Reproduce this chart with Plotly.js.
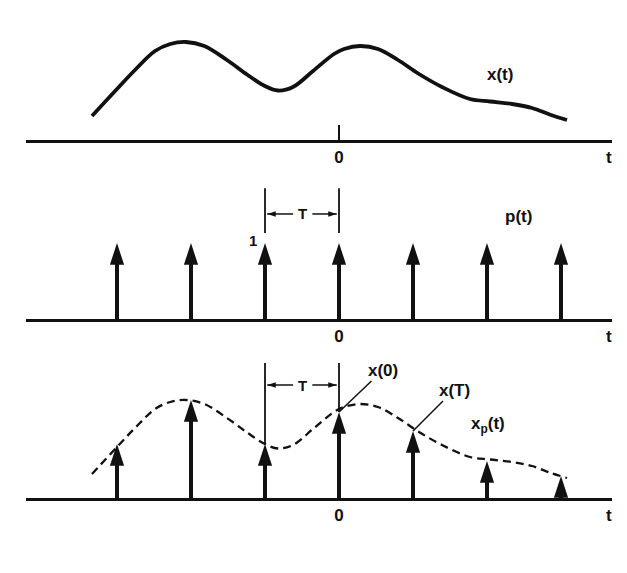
<!DOCTYPE html>
<html>
<head>
<meta charset="utf-8">
<script src="https://cdn.plot.ly/plotly-3.0.1.min.js"></script>
<style>html,body{margin:0;padding:0;background:#fff;}</style>
</head>
<body>
<div id="chart" style="width:627px;height:573px;"></div>
<script>
// continuous signal x(t), t in units of T
const curveT = [-3.338, -3.0, -2.757, -2.486, -2.28, -2.068, -1.82, -1.514, -1.243, -1.014, -0.824, -0.622, -0.351, -0.068, 0.068, 0.284, 0.527, 0.797, 1.081, 1.392, 1.770, 2.041, 2.338, 2.608, 2.865, 3.081];
const curveX = [24, 51, 70, 89, 96, 98, 94, 80, 65.5, 54.5, 49.5, 53, 69, 86, 91, 94, 91, 80, 66, 53, 41, 38.5, 36, 32, 25, 20];
// impulse train p(t)
const pulseT = [-3, -2, -1, 0, 1, 2, 3];
const pulseH = [1, 1, 1, 1, 1, 1, 1];
// sampled values x(nT)
const sampleT = [-3, -2, -1, 0, 1, 2, 3];
const sampleX = [54, 98, 54, 86, 67, 37, 22];
const zeroTick = [0];
const zeroLabel = ['0'];

const INK = '#111';
const FONT = {family: 'Liberation Sans, Arial, sans-serif', size: 17, color: INK, weight: 'bold'};
const SMALL = {family: 'Liberation Sans, Arial, sans-serif', size: 15, color: INK, weight: 'bold'};
const HEAD_PX = 12;            // shaft stops inside arrow head
const PX_PER_UNIT = {y: 1, y2: 76, y3: 1};

function impulseTraces(ts, vs, xa, ya) {
  const sx = [], sy = [];
  const k = PX_PER_UNIT[ya];
  ts.forEach((t, i) => {
    sx.push(t, t, null);
    sy.push(0, Math.max(0, vs[i] - HEAD_PX / k), null);
  });
  return [
    {x: sx, y: sy, xaxis: xa, yaxis: ya, mode: 'lines', line: {color: INK, width: 4}, hoverinfo: 'skip', cliponaxis: false},
    {x: ts, y: vs, xaxis: xa, yaxis: ya, mode: 'markers', marker: {symbol: 'arrow', size: 23, color: INK, line: {width: 0}}, hoverinfo: 'skip', cliponaxis: false}
  ];
}

// "|<- T ->|" bracket arrows between t = -1 and t = 0
function bracketTraces(xa, ya, yv) {
  return [
    {x: [-0.97, -0.62, null, -0.36, -0.03], y: [yv, yv, null, yv, yv], xaxis: xa, yaxis: ya, mode: 'lines', line: {color: INK, width: 1.5}, hoverinfo: 'skip', cliponaxis: false},
    {x: [-0.97, -0.03], y: [yv, yv], xaxis: xa, yaxis: ya, mode: 'markers', marker: {symbol: 'arrow', size: 9, angle: [-90, 90], color: INK, line: {width: 0}}, hoverinfo: 'skip', cliponaxis: false}
  ];
}

const data = [
  {x: curveT, y: curveX, xaxis: 'x', yaxis: 'y', mode: 'lines', line: {color: INK, width: 3.8, shape: 'spline', smoothing: 1}, hoverinfo: 'skip'},
  ...impulseTraces(pulseT, pulseH, 'x2', 'y2'),
  ...bracketTraces('x2', 'y2', 1.382),
  {x: curveT, y: curveX, xaxis: 'x3', yaxis: 'y3', mode: 'lines', line: {color: INK, width: 2.3, shape: 'spline', smoothing: 1, dash: '8px,5px'}, hoverinfo: 'skip'},
  ...impulseTraces(sampleT, sampleX, 'x3', 'y3'),
  ...bracketTraces('x3', 'y3', 113)
];

const xr = [(26 - 339) / 74, (612 - 339) / 74];
const xdom = [26 / 627, 612 / 627];
function xax(anchor, ticks) {
  return {
    domain: xdom, range: xr, anchor: anchor, showgrid: false, zeroline: false,
    showline: true, linecolor: INK, linewidth: 2.5,
    tickmode: 'array', tickvals: zeroTick, ticktext: zeroLabel,
    ticks: ticks ? 'inside' : '', ticklen: 15, tickwidth: 2, tickcolor: INK,
    tickfont: FONT, fixedrange: true
  };
}
function yax(anchor, dom, rng) {
  return {domain: dom, range: rng, anchor: anchor, visible: false, fixedrange: true};
}

const annotations = [
  {xref: 'x', yref: 'y', x: 2.176, y: 66, text: 'x(t)', showarrow: false, font: FONT},
  {xref: 'x2', yref: 'y2', x: 2.419, y: 1.355, text: 'p(t)', showarrow: false, font: FONT},
  {xref: 'x3', yref: 'y3', x: 2.014, y: 73, text: 'x<sub>p</sub>(t)', showarrow: false, font: FONT},
  {xref: 'x', yref: 'paper', x: 3.649, y: (573 - 157) / 573, yanchor: 'middle', text: 't', showarrow: false, font: FONT},
  {xref: 'x2', yref: 'paper', x: 3.649, y: (573 - 337) / 573, yanchor: 'middle', text: 't', showarrow: false, font: FONT},
  {xref: 'x3', yref: 'paper', x: 3.649, y: (573 - 515) / 573, yanchor: 'middle', text: 't', showarrow: false, font: FONT},
  {xref: 'x2', yref: 'y2', x: pulseT[2], y: pulseH[2], xshift: -12, yshift: 3, text: '1', showarrow: false, font: SMALL},
  {xref: 'x2', yref: 'y2', x: -0.5, y: 1.382, text: 'T', showarrow: false, font: SMALL},
  {xref: 'x3', yref: 'y3', x: -0.5, y: 113, text: 'T', showarrow: false, font: SMALL},
  {xref: 'x3', yref: 'y3', x: sampleT[3], y: sampleX[3], ax: 44, ay: -42, text: 'x(0)', showarrow: true, arrowhead: 0, arrowwidth: 1.5, arrowcolor: INK, font: FONT},
  {xref: 'x3', yref: 'y3', x: sampleT[4], y: sampleX[4], ax: 41, ay: -41, text: 'x(T)', showarrow: true, arrowhead: 0, arrowwidth: 1.5, arrowcolor: INK, font: FONT}
];

const shapes = [
  {type: 'line', xref: 'x2', yref: 'y2', x0: -1, x1: -1, y0: 1.132, y1: 1.72, line: {color: INK, width: 1.8}},
  {type: 'line', xref: 'x2', yref: 'y2', x0: 0, x1: 0, y0: 1.132, y1: 1.72, line: {color: INK, width: 1.8}},
  {type: 'line', xref: 'x3', yref: 'y3', x0: sampleT[2], x1: sampleT[2], y0: sampleX[2], y1: 135, line: {color: INK, width: 1.8}},
  {type: 'line', xref: 'x3', yref: 'y3', x0: sampleT[3], x1: sampleT[3], y0: sampleX[3], y1: 135, line: {color: INK, width: 1.8}}
];

const layout = {
  width: 627, height: 573,
  margin: {l: 0, r: 0, t: 0, b: 0},
  paper_bgcolor: '#fff', plot_bgcolor: 'rgba(0,0,0,0)',
  showlegend: false, hovermode: false,
  font: FONT,
  xaxis: xax('y', true),
  xaxis2: xax('y2', false),
  xaxis3: xax('y3', false),
  yaxis: yax('x', [433 / 573, 553 / 573], [0, 120]),
  yaxis2: yax('x2', [254 / 573, 388 / 573], [0, 134 / 76]),
  yaxis3: yax('x3', [75 / 573, 213 / 573], [0, 138]),
  annotations: annotations,
  shapes: shapes
};

Plotly.newPlot('chart', data, layout, {staticPlot: true, displayModeBar: false});
</script>
</body>
</html>
